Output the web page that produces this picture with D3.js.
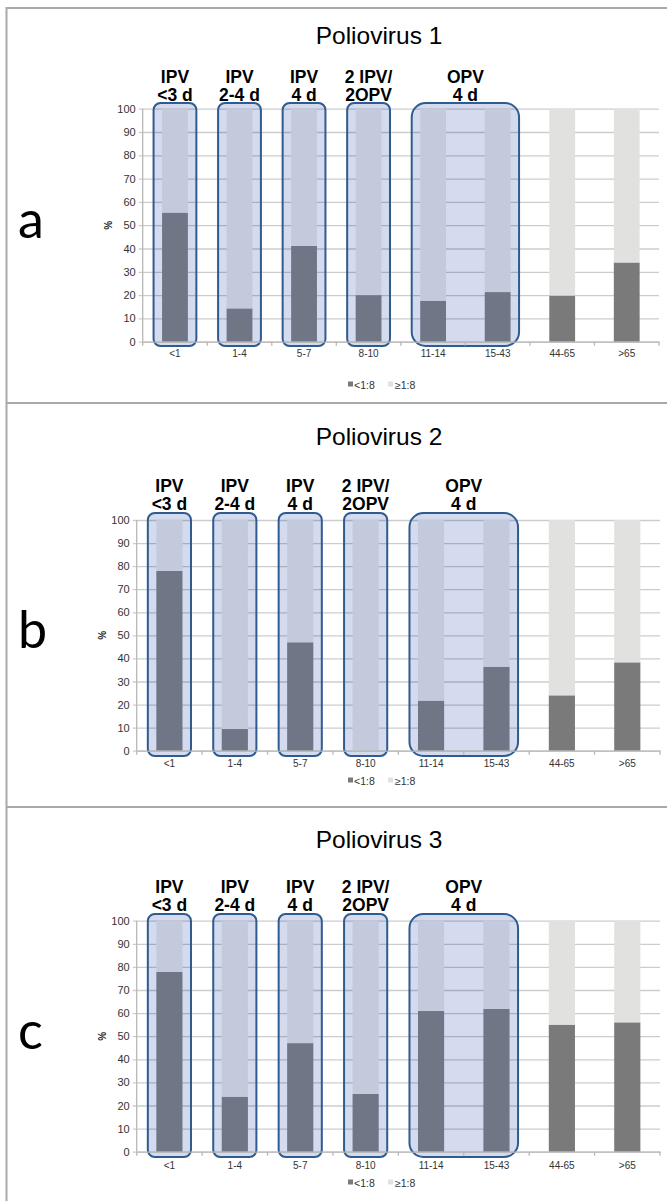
<!DOCTYPE html>
<html>
<head>
<meta charset="utf-8">
<script src="https://cdn.jsdelivr.net/npm/d3@7"></script>
<style>
  html, body { margin: 0; padding: 0; background: #ffffff; }
  svg { display: block; }
  text { font-family: "Liberation Sans", Arial, sans-serif; }
</style>
</head>
<body>
<svg id="chart" width="667" height="1201"></svg>
<script>
// ---------------- DATA ----------------
const categories = ["<1", "1-4", "5-7", "8-10", "11-14", "15-43", "44-65", ">65"];
const panelTitles = ["Poliovirus 1", "Poliovirus 2", "Poliovirus 3"];
const panelLetters = ["a", "b", "c"];
const seriesNames = ["<1:8", "\u22651:8"];
// % of subjects with titre <1:8 (dark segment); the light segment is the rest up to 100
const pv1Below = [55.4, 14.3, 41.1, 20.0, 17.6, 21.3, 19.8, 34.0];
const pv2Below = [77.9, 9.4, 47.0, 0.0, 21.7, 36.4, 24.0, 38.3];
const pv3Below = [77.8, 23.8, 47.0, 25.0, 60.9, 61.8, 55.0, 56.0];
const yTicks = [0, 10, 20, 30, 40, 50, 60, 70, 80, 90, 100];
const yLabel = "%";
const groupLabels = [["IPV", "<3 d"], ["IPV", "2-4 d"], ["IPV", "4 d"], ["2 IPV/", "2OPV"], ["OPV", "4 d"]];
const groupCategories = [["<1"], ["1-4"], ["5-7"], ["8-10"], ["11-14", "15-43"]];

const panelData = [pv1Below, pv2Below, pv3Below];

// ---------------- LAYOUT ----------------
const layouts = [
  { top: 8,   x0: 142.7, x1: 659, yTop: 108.7, yBot: 341.7, titleY: 44,  lab1: 83,  lab2: 101, xlabY: 357,  legY: 389,  letterY: 238,  boxTop: 103, boxBot: 346 },
  { top: 403, x0: 136.7, x1: 660, yTop: 520,   yBot: 750.7, titleY: 445, lab1: 492, lab2: 510, xlabY: 767,  legY: 785,  letterY: 648,  boxTop: 513, boxBot: 756 },
  { top: 807, x0: 136.7, x1: 660, yTop: 920.7, yBot: 1151.7, titleY: 848, lab1: 893, lab2: 911, xlabY: 1169, legY: 1187, letterY: 1049, boxTop: 914, boxBot: 1157 }
];

const colors = {
  darkOut: "#7a7a7a", lightOut: "#e1e1df",
  darkIn: "#6f7686", lightIn: "#c3cadb",
  boxFill: "#d4dbef", boxStroke: "#2f5b8f",
  grid: "rgba(0,0,0,0.2)", axis: "#b8b8b8", border: "#a9a9a9"
};

const svg = d3.select("#chart");

// outer frame lines
svg.append("line").attr("x1", 6.5).attr("x2", 6.5).attr("y1", 7).attr("y2", 1201)
  .attr("stroke", colors.border).attr("stroke-width", 2);
layouts.forEach(L => {
  svg.append("line").attr("x1", 6).attr("x2", 667).attr("y1", L.top).attr("y2", L.top)
    .attr("stroke", colors.border).attr("stroke-width", 2);
});

const boxedCats = new Set(groupCategories.flat());
const stack = d3.stack().keys(["below", "above"]);

panelData.forEach((vals, pi) => {
  const L = layouts[pi];
  const g = svg.append("g");

  const x = d3.scaleBand().domain(categories).range([L.x0, L.x1]).paddingInner(0.6).paddingOuter(0.3);
  const y = d3.scaleLinear().domain([0, 100]).range([L.yBot, L.yTop]);
  const bw = x.bandwidth();
  const pad = 8.5;

  const rows = categories.map((c, i) => ({ cat: c, below: vals[i], above: 100 - vals[i] }));
  const series = stack(rows);

  // box fills
  const boxes = groupCategories.map((cats, gi) => {
    const xa = x(cats[0]) - pad;
    const xb = x(cats[cats.length - 1]) + bw + pad;
    return { gi, xa, xb, r: cats.length > 1 ? 14 : 7, cats };
  });
  g.selectAll(".boxfill").data(boxes).enter().append("rect")
    .attr("x", d => d.xa).attr("y", L.boxTop)
    .attr("width", d => d.xb - d.xa).attr("height", L.boxBot - L.boxTop)
    .attr("rx", d => d.r).attr("ry", d => d.r)
    .attr("fill", colors.boxFill);

  // gridlines + y axis labels
  const yAxis = d3.axisLeft(y).tickValues(yTicks).tickSizeInner(-(L.x1 - L.x0)).tickSizeOuter(0).tickPadding(7);
  const ya = g.append("g").attr("transform", `translate(${L.x0},0)`).call(yAxis);
  ya.select(".domain").remove();
  ya.selectAll(".tick line").attr("stroke", colors.grid).attr("stroke-width", 1.3)
    .attr("x1", -4);
  ya.selectAll(".tick text").attr("font-size", 11).attr("fill", "#333")
    .style("font-family", "'Liberation Sans', Arial, sans-serif");

  // y axis line
  g.append("line").attr("x1", L.x0).attr("x2", L.x0).attr("y1", y(100)).attr("y2", y(0))
    .attr("stroke", colors.axis).attr("stroke-width", 1.3);

  // bars
  series.forEach((s, si) => {
    g.selectAll(".bar" + si).data(s).enter().append("rect")
      .attr("x", d => x(d.data.cat))
      .attr("width", bw)
      .attr("y", d => y(d[1]))
      .attr("height", d => Math.max(0, y(d[0]) - y(d[1])))
      .attr("fill", d => {
        const inside = boxedCats.has(d.data.cat);
        if (si === 0) return inside ? colors.darkIn : colors.darkOut;
        return inside ? colors.lightIn : colors.lightOut;
      });
  });

  // box strokes
  g.selectAll(".boxstroke").data(boxes).enter().append("rect")
    .attr("x", d => d.xa).attr("y", L.boxTop)
    .attr("width", d => d.xb - d.xa).attr("height", L.boxBot - L.boxTop)
    .attr("rx", d => d.r).attr("ry", d => d.r)
    .attr("fill", "none").attr("stroke", colors.boxStroke).attr("stroke-width", 2);

  // x axis
  const xAxis = d3.axisBottom(x).tickSize(0).tickPadding(0);
  const xa = g.append("g").attr("transform", `translate(0,${y(0)})`).call(xAxis);
  xa.select(".domain").attr("stroke", colors.axis).attr("stroke-width", 1.3);
  xa.selectAll(".tick line").remove();
  xa.selectAll(".tick text").attr("y", L.xlabY - y(0)).attr("dy", 0)
    .attr("font-size", 10).attr("fill", "#333")
    .style("font-family", "'Liberation Sans', Arial, sans-serif");
  // boundary ticks
  const step = x.step();
  const bounds = d3.range(categories.length + 1).map(i => L.x0 + i * step);
  g.selectAll(".xtick").data(bounds).enter().append("line")
    .attr("x1", d => d).attr("x2", d => d)
    .attr("y1", y(0)).attr("y2", y(0) + 4)
    .attr("stroke", colors.axis).attr("stroke-width", 1.3);

  // group labels
  boxes.forEach(b => {
    const cx = (b.xa + b.xb) / 2;
    const lbl = groupLabels[b.gi];
    g.append("text").attr("x", cx).attr("y", L.lab1).attr("text-anchor", "middle")
      .attr("font-size", 17.5).attr("font-weight", "bold").attr("fill", "#000").text(lbl[0]);
    g.append("text").attr("x", cx).attr("y", L.lab2).attr("text-anchor", "middle")
      .attr("font-size", 17.5).attr("font-weight", "bold").attr("fill", "#000").text(lbl[1]);
  });

  // title
  g.append("text").attr("x", 379).attr("y", L.titleY).attr("text-anchor", "middle")
    .attr("font-size", 24.5).attr("fill", "#000").text(panelTitles[pi]);

  // y label
  const ym = (y(0) + y(100)) / 2;
  g.append("text").attr("transform", `translate(${L.x0 - 31},${ym}) rotate(-90)`)
    .attr("text-anchor", "middle").attr("font-size", 10).attr("font-weight", "bold")
    .attr("fill", "#222").text(yLabel);

  // panel letter
  g.append("text").attr("x", 18).attr("y", L.letterY)
    .attr("font-size", 52).attr("fill", "#000")
    .style("font-family", "Lato, 'Open Sans', sans-serif")
    .text(panelLetters[pi]);

  // legend
  const legItems = [
    { name: seriesNames[0], color: colors.darkOut, sx: 348, tx: 354 },
    { name: seriesNames[1], color: colors.lightOut, sx: 388, tx: 395 }
  ];
  legItems.forEach(it => {
    g.append("rect").attr("x", it.sx).attr("y", L.legY - 7.5).attr("width", 5).attr("height", 5).attr("fill", it.color);
    g.append("text").attr("x", it.tx).attr("y", L.legY).attr("font-size", 10.5).attr("fill", "#333").text(it.name);
  });
});
</script>
</body>
</html>
